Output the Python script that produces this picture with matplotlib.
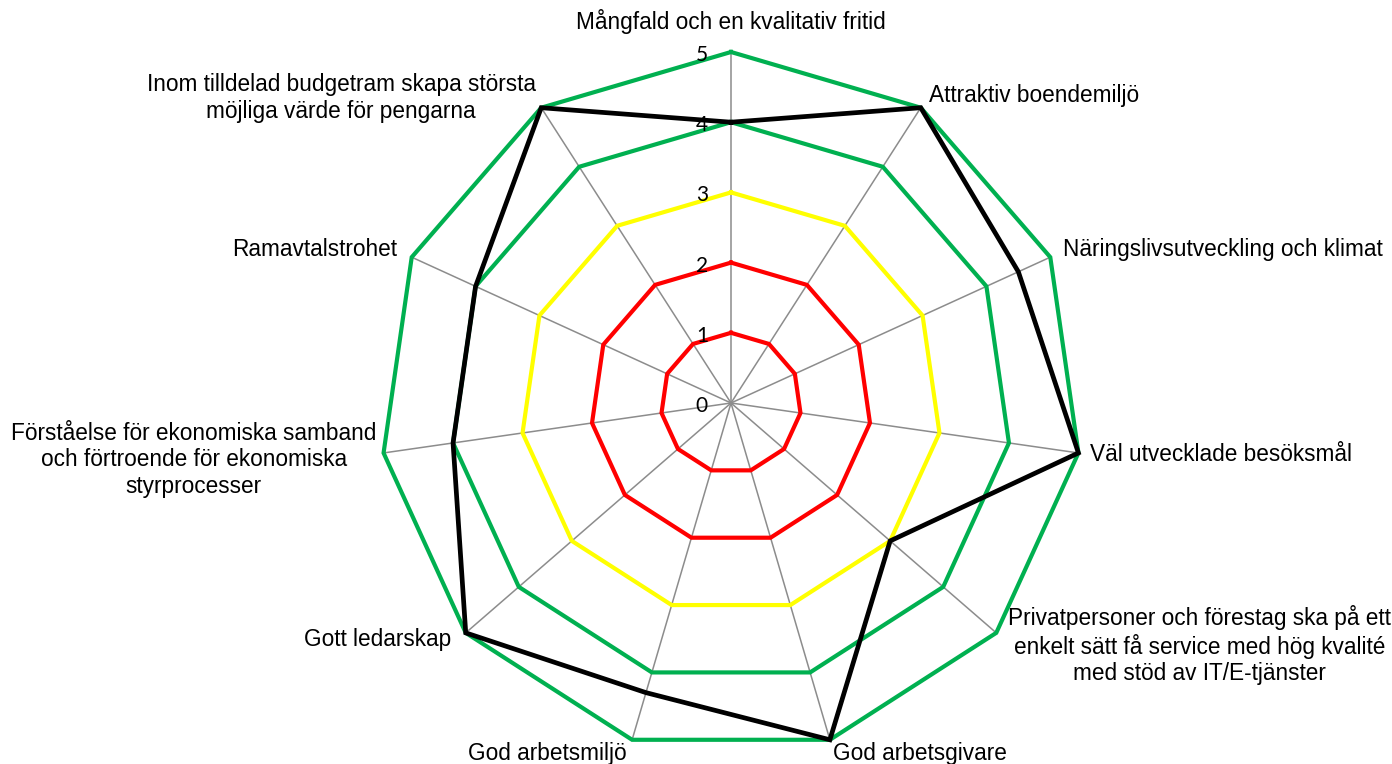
import numpy as np
import matplotlib.pyplot as plt

# ==========================================================
# Data
# ==========================================================

categories = [
    "Mångfald och en kvalitativ fritid",
    "Attraktiv boendemiljö",
    "Näringslivsutveckling och klimat",
    "Väl utvecklade besöksmål",
    "Privatpersoner och förestag ska på ett\nenkelt sätt få service med hög kvalité\nmed stöd av IT/E-tjänster",
    "God arbetsgivare",
    "God arbetsmiljö",
    "Gott ledarskap",
    "Förståelse för ekonomiska samband\noch förtroende för ekonomiska\nstyrprocesser",
    "Ramavtalstrohet",
    "Inom tilldelad budgetram skapa största\nmöjliga värde för pengarna",
]

outcome = [4, 5, 4.5, 5, 3, 5, 4.3, 5, 4, 4, 5]
level_red_1 = [1] * 11
level_red_2 = [2] * 11
level_yellow = [3] * 11
level_green_4 = [4] * 11
level_green_5 = [5] * 11
tick_values = [0, 1, 2, 3, 4, 5]

# ==========================================================
# Figure
# ==========================================================

W, H = 1392, 764
fig = plt.figure(figsize=(W / 100, H / 100), dpi=100)

cx, cy, R = 731 / W, 1 - 403 / H, 351
ax = fig.add_axes([cx - R / W, cy - R / H, 2 * R / W, 2 * R / H],
                  projection="polar")
ax.set_theta_zero_location("N")
ax.set_theta_direction(-1)
ax.set_ylim(0, 5)
ax.axis("off")

n = len(categories)
theta = np.linspace(0, 2 * np.pi, n, endpoint=False)
theta_closed = np.append(theta, theta[0])


def closed(values):
    return np.append(values, values[0])


# spokes
for t in theta:
    ax.plot([t, t], [0, 5], color="#8c8c8c", lw=1.1, zorder=1,
            clip_on=False)

series = [
    (level_red_1, "#FF0000", 3.0),
    (level_red_2, "#FF0000", 3.0),
    (level_yellow, "#FFFF00", 3.0),
    (level_green_4, "#00B050", 3.0),
    (level_green_5, "#00B050", 3.0),
    (outcome, "black", 3.4),
]
for values, color, lw in series:
    ax.plot(theta_closed, closed(values), color=color, lw=lw,
            solid_joinstyle="miter", clip_on=False, zorder=2)

# radial tick labels
for v in tick_values:
    ax.annotate(str(v), xy=(0, v), xytext=(-23, -3),
                textcoords="offset pixels", ha="right", va="center",
                fontsize=15, family="Lato", zorder=5)

# category labels
label_offsets = [
    ((0, 30), "center", "center"),
    ((8, 12), "left", "center"),
    ((13, 8), "left", "center"),
    ((12, -2), "left", "center"),
    ((203, -12), "center", "center"),
    ((3, -2), "left", "top"),
    ((-5, -2), "right", "top"),
    ((-14, -7), "right", "center"),
    ((-190, -7), "center", "center"),
    ((-15, 8), "right", "center"),
    ((-200, 10), "center", "center"),
]
for t, label, (off, ha, va) in zip(theta, categories, label_offsets):
    ax.annotate(label, xy=(t, 5), xytext=off, textcoords="offset pixels",
                ha=ha, va=va, multialignment="center", fontsize=16.3,
                family="Liberation Sans", linespacing=1.2,
                annotation_clip=False)

plt.savefig("out.png", dpi=100)
